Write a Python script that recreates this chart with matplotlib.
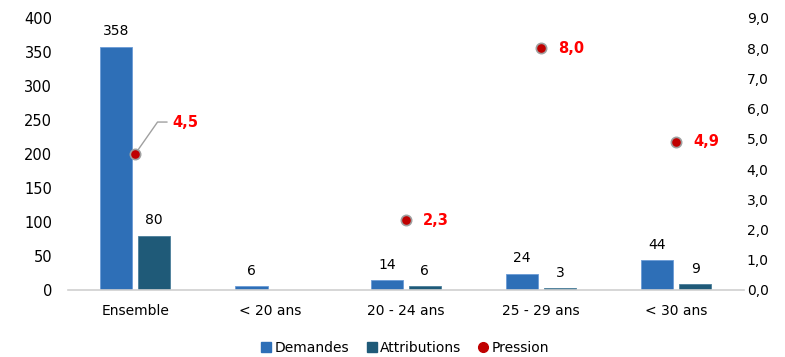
import matplotlib
matplotlib.use("Agg")
import matplotlib.pyplot as plt
import numpy as np
from matplotlib.lines import Line2D

categories = ["Ensemble", "< 20 ans", "20 - 24 ans", "25 - 29 ans", "< 30 ans"]
demandes = [358, 6, 14, 24, 44]
attributions = [80, None, 6, 3, 9]
pression = [4.5, None, 2.3, 8.0, 4.9]
left_ticks = [0, 50, 100, 150, 200, 250, 300, 350, 400]
right_ticks = [0, 1, 2, 3, 4, 5, 6, 7, 8, 9]

plt.rcParams['font.family'] = ['DejaVu Sans']

fig = plt.figure(figsize=(7.85, 3.57), dpi=100)
ax = fig.add_axes([0.086, 0.1877, 0.8618, 0.7619])
ax2 = ax.twinx()

x = np.arange(len(categories))
w = 0.237
off = 0.14
c_dem = "#2E6FB7"
c_att = "#1F5A78"

dx = [xi - off for xi in x]
ax.bar(dx, demandes, width=w, color=c_dem, edgecolor="#6a9bd6", linewidth=0.6, zorder=2)
ax_x = [xi + off for xi, v in zip(x, attributions) if v is not None]
ax_v = [v for v in attributions if v is not None]
ax.bar(ax_x, ax_v, width=w, color=c_att, edgecolor="#4a7e9a", linewidth=0.6, zorder=2)

for xi, v in zip(dx, demandes):
    ax.annotate(str(v), (xi, v), xytext=(0, 6), textcoords="offset points",
                ha="center", va="bottom", fontsize=10, color="black")
for xi, v in zip(ax_x, ax_v):
    ax.annotate(str(v), (xi, v), xytext=(0, 6), textcoords="offset points",
                ha="center", va="bottom", fontsize=10, color="black")

ax.set_xlim(-0.5, len(categories) - 0.5)
ax.set_ylim(0, 400)
ax.set_yticks(left_ticks)
ax.set_yticklabels([str(t) for t in left_ticks], fontsize=10.5)
ax.set_xticks(x)
ax.set_xticklabels(categories, fontsize=10)
ax.tick_params(axis="x", length=0, pad=10)
ax.tick_params(axis="y", length=0, pad=11)
for s in ["top", "right", "left"]:
    ax.spines[s].set_visible(False)
ax.spines["bottom"].set_color("#d0d0d0")
ax.spines["bottom"].set_linewidth(1.2)

px = [xi for xi, v in zip(x, pression) if v is not None]
pv = [v for v in pression if v is not None]
ax2.scatter(px, pv, s=55, color="#C00000", edgecolor="#a0a0a0", linewidth=1.2, zorder=5)
ax2.set_ylim(0, 9)
ax2.set_yticks(right_ticks)
ax2.set_yticklabels([f"{t:.1f}".replace(".", ",") for t in right_ticks], fontsize=10)
ax2.tick_params(axis="y", length=0, pad=2)
for s in ["top", "right", "left", "bottom"]:
    ax2.spines[s].set_visible(False)

for i, (xi, v) in enumerate(zip(px, pv)):
    lbl = f"{v:.1f}".replace(".", ",")
    if i == 0:
        ax2.annotate(lbl, (xi, v), xytext=(27, 23), textcoords="offset points",
                     ha="left", va="center", fontsize=10.5, fontweight="bold", color="#FF0000",
                     arrowprops=dict(arrowstyle="-", color="#a0a0a0", lw=1,
                                     connectionstyle="angle,angleA=0,angleB=55,rad=0",
                                     shrinkA=2, shrinkB=3))
    else:
        ax2.annotate(lbl, (xi, v), xytext=(12, 0), textcoords="offset points",
                     ha="left", va="center", fontsize=10.5, fontweight="bold", color="#FF0000")

handles = [
    Line2D([], [], marker="s", linestyle="", color=c_dem, markersize=7),
    Line2D([], [], marker="s", linestyle="", color=c_att, markersize=7),
    Line2D([], [], marker="o", linestyle="", color="#C00000", markersize=7),
]
fig.legend(handles, ["Demandes", "Attributions", "Pression"], loc="lower center",
           bbox_to_anchor=(0.515, -0.03), ncol=3, frameon=False, fontsize=10,
           handletextpad=0.1, columnspacing=1.1, handlelength=1.0)

fig.savefig("out.png", dpi=100)
